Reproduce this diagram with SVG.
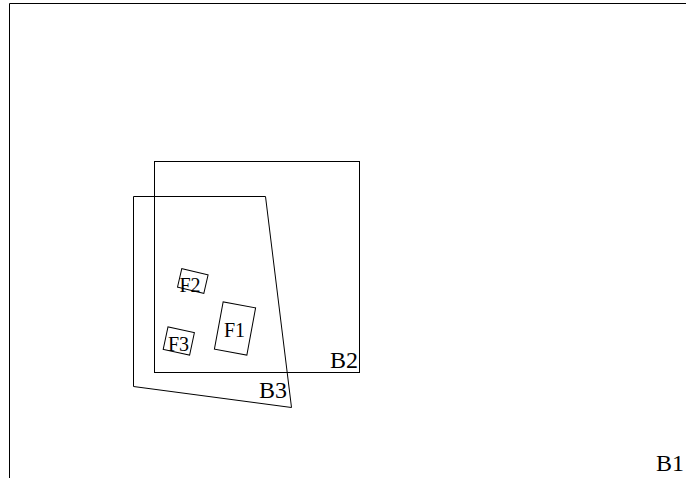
<svg xmlns="http://www.w3.org/2000/svg" width="686" height="478" viewBox="0 0 686 478">
<style>
.s{fill:none;stroke:#000;stroke-width:1}
.t{font-family:"Liberation Serif",serif;fill:#000}
.b{font-size:24px;text-anchor:end}
.f{font-size:20px;text-anchor:middle}
</style>
<rect width="686" height="478" fill="#fff"/>
<g id="B1">
<polyline class="s" points="9.5,478 9.5,3.5 686,3.5"/>
<text class="t b" x="684" y="471">B1</text>
</g>
<g id="B2">
<rect class="s" x="154.5" y="161.5" width="205" height="211"/>
<text class="t b" x="358" y="368">B2</text>
</g>
<g id="B3">
<polygon class="s" points="133.5,196.5 265.5,196.5 291.5,407.5 133.5,386.5"/>
<text class="t b" x="287" y="398">B3</text>
</g>
<g id="F1">
<rect class="s" x="-16.5" y="-24" width="33" height="48" transform="translate(235,328.5) rotate(10.5)"/>
<text class="t f" x="234.5" y="337">F1</text>
</g>
<g id="F2">
<rect class="s" x="-13.5" y="-9.5" width="27" height="19" transform="translate(192.8,281) rotate(13)"/>
<text class="t f" x="190" y="292">F2</text>
</g>
<g id="F3">
<rect class="s" x="-13.5" y="-11.5" width="27" height="23" transform="translate(178.8,341) rotate(12)"/>
<text class="t f" x="178.5" y="351">F3</text>
</g>
<g id="connectors"/>
</svg>
